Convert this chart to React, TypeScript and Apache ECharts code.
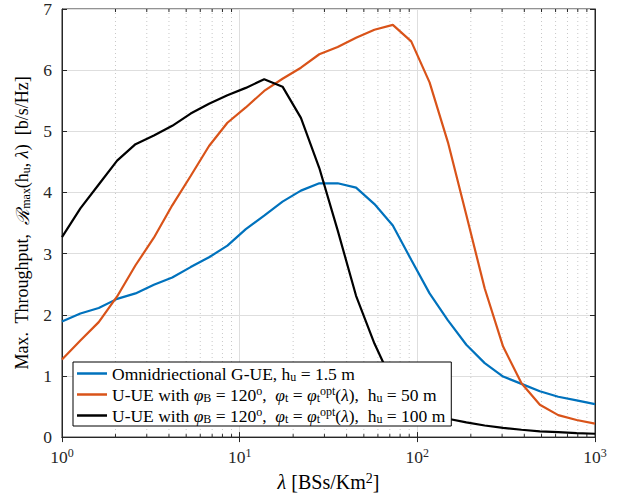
import React, { useEffect, useRef } from "react";
import * as echarts from "echarts";

const lambdas = [1, 1.269, 1.61, 2.043, 2.593, 3.29, 4.175, 5.298, 6.723, 8.532, 10.83, 13.74, 17.43, 22.12, 28.07, 35.62, 45.2, 57.36, 72.79, 92.37, 117.2, 148.7, 188.7, 239.5, 303.9, 385.7, 489.4, 621.0, 788.0, 1000];
const omniGUE = [1.89, 2.02, 2.11, 2.26, 2.35, 2.49, 2.61, 2.78, 2.94, 3.13, 3.4, 3.62, 3.85, 4.03, 4.15, 4.15, 4.08, 3.81, 3.46, 2.9, 2.35, 1.91, 1.51, 1.21, 0.99, 0.87, 0.75, 0.66, 0.6, 0.54];
const uue50 = [1.27, 1.58, 1.88, 2.3, 2.81, 3.26, 3.79, 4.27, 4.76, 5.14, 5.39, 5.66, 5.86, 6.04, 6.26, 6.38, 6.53, 6.66, 6.74, 6.47, 5.8, 4.82, 3.63, 2.43, 1.48, 0.88, 0.53, 0.36, 0.28, 0.22];
const uue100 = [3.27, 3.74, 4.13, 4.52, 4.79, 4.93, 5.09, 5.29, 5.45, 5.59, 5.71, 5.85, 5.73, 5.22, 4.4, 3.38, 2.31, 1.53, 0.88, 0.58, 0.42, 0.3, 0.24, 0.19, 0.15, 0.12, 0.095, 0.08, 0.065, 0.055];
const minorTicks = [2, 3, 4, 5, 6, 7, 8, 9, 20, 30, 40, 50, 60, 70, 80, 90, 200, 300, 400, 500, 600, 700, 800, 900];
const seriesNames = ["omni", "u50", "u100"];
const seriesColors = ["#0072BD", "#D95319", "#000000"];

const SERIF = "'Liberation Serif', 'DejaVu Serif', serif";
const AX = "#262626";

const legendTexts: Record<string, string> = {
  omni: "{t|Omnidriectional G-UE, h}{sub|u}{t| = 1.5 m}",
  u50: "{t|U-UE with }{i|φ}{sub|B}{t| = 120}{sup|o}{t|,  }{i|φ}{sub|t}{t| = }{i|φ}{sub|t}{sup|opt}{t|(}{i|λ}{t|),  h}{sub|u}{t| = 50 m}",
  u100: "{t|U-UE with }{i|φ}{sub|B}{t| = 120}{sup|o}{t|,  }{i|φ}{sub|t}{t| = }{i|φ}{sub|t}{sup|opt}{t|(}{i|λ}{t|),  h}{sub|u}{t| = 100 m}",
};

function richSet(fs: number, lh: number) {
  return {
    t: { fontFamily: SERIF, fontSize: fs, color: "#000", lineHeight: lh },
    i: { fontFamily: SERIF, fontSize: fs, fontStyle: "italic", color: "#000", lineHeight: lh },
    c: { fontFamily: "'DejaVu Serif', serif", fontSize: fs, fontStyle: "italic", color: "#000", lineHeight: lh },
    sub: { fontFamily: SERIF, fontSize: Math.round(fs * 0.68), color: "#000", verticalAlign: "bottom", lineHeight: Math.round(fs * 0.68) },
    sup: { fontFamily: SERIF, fontSize: Math.round(fs * 0.68), color: "#000", verticalAlign: "top", lineHeight: Math.round(fs * 0.68) },
  };
}

export default function App() {
  const ref = useRef<HTMLDivElement>(null);
  useEffect(() => {
    if (!ref.current) return;
    const chart = echarts.init(ref.current, undefined, { renderer: "svg" });
    const mk = (vals: number[]) => lambdas.map((l, i) => [l, vals[i]]);
    const allVals = [omniGUE, uue50, uue100];
    const grid = { left: 62, top: 9, right: 26, bottom: 58 };
    const option: any = {
      animation: false,
      backgroundColor: "#fff",
      grid: { ...grid, show: true, borderColor: AX, borderWidth: 1, backgroundColor: "transparent" },
      legend: {
        orient: "vertical",
        left: 73,
        top: 362,
        z: 20,
        zlevel: 0,
        data: seriesNames.map((n, i) => ({ name: n, icon: "rect", itemStyle: { color: seriesColors[i] } })),
        itemWidth: 30,
        itemHeight: 2.5,
        itemGap: 2,
        padding: [2, 6, 1, 4],
        backgroundColor: "#fff",
        borderColor: "#000",
        borderWidth: 1,
        borderRadius: 0,
        formatter: (name: string) => legendTexts[name],
        textStyle: { fontFamily: SERIF, fontSize: 17.5, lineHeight: 19, rich: richSet(17.5, 19) },
      },
      xAxis: [
        {
          type: "log",
          logBase: 10,
          min: 1,
          max: 1000,
          name: "{i|λ}{t| [BSs/Km}{sup|2}{t|]}",
          nameLocation: "middle",
          nameGap: 33,
          nameTextStyle: { rich: richSet(20, 22) },
          axisLine: { lineStyle: { color: AX } },
          axisTick: { inside: true, length: 5, lineStyle: { color: AX } },
          axisLabel: {
            margin: 10,
            formatter: (v: number) => `{b|10}{s|${Math.round(Math.log10(v))}}`,
            rich: {
              b: { fontFamily: SERIF, fontSize: 17.5, color: AX, lineHeight: 20 },
              s: { fontFamily: SERIF, fontSize: 12, color: AX, verticalAlign: "top", lineHeight: 12 },
            },
          },
          splitLine: { show: true, lineStyle: { color: "#dedede", width: 1 } },
        },
        {
          type: "log",
          logBase: 10,
          min: 1,
          max: 1000,
          position: "top",
          axisLine: { lineStyle: { color: AX } },
          axisTick: { inside: true, length: 5, lineStyle: { color: AX } },
          axisLabel: { show: false },
          splitLine: { show: false },
        },
      ],
      yAxis: [
        {
          type: "value",
          min: 0,
          max: 7,
          interval: 1,
          name: "{t|Max.  Throughput,  }{c|ℛ}{sub|max}{t|(h}{sub|u}{t|, }{i|λ}{t|)  [b/s/Hz]}",
          nameLocation: "middle",
          nameGap: 28,
          nameRotate: 90,
          nameTextStyle: { rich: richSet(18, 20) },
          axisLine: { show: true, lineStyle: { color: AX } },
          axisTick: { show: true, inside: true, length: 5, lineStyle: { color: AX } },
          axisLabel: { fontFamily: SERIF, fontSize: 17.5, color: AX, margin: 10 },
          splitLine: { show: true, lineStyle: { color: "#dedede", width: 1 } },
        },
        {
          type: "value",
          min: 0,
          max: 7,
          interval: 1,
          position: "right",
          axisLine: { show: true, lineStyle: { color: AX } },
          axisTick: { show: true, inside: true, length: 5, lineStyle: { color: AX } },
          axisLabel: { show: false },
          splitLine: { show: false },
        },
      ],
      series: [
        {
          type: "custom",
          name: "minor",
          silent: true,
          z: 1,
          clip: false,
          xAxisIndex: 0,
          yAxisIndex: 0,
          data: minorTicks.map((m) => [m, 0]),
          renderItem: (params: any, api: any) => {
            const x = api.coord([api.value(0), 0])[0];
            const cs = params.coordSys;
            const top = cs.y;
            const bot = cs.y + cs.height;
            return {
              type: "group",
              children: [
                { type: "line", shape: { x1: x, y1: top, x2: x, y2: bot }, style: { stroke: "#c8c8c8", lineWidth: 1, lineDash: [1, 3] } },
                { type: "line", shape: { x1: x, y1: bot, x2: x, y2: bot - 3 }, style: { stroke: AX, lineWidth: 1 } },
                { type: "line", shape: { x1: x, y1: top, x2: x, y2: top + 3 }, style: { stroke: AX, lineWidth: 1 } },
              ],
            };
          },
        },
        ...seriesNames.map((n, i) => ({
          type: "line",
          name: n,
          data: mk(allVals[i]),
          symbol: "none",
          z: 3,
          lineStyle: { color: seriesColors[i], width: 2.2 },
          itemStyle: { color: seriesColors[i] },
        })),
      ],
    };
    chart.setOption(option);
    return () => chart.dispose();
  }, []);
  return <div ref={ref} style={{ position: "fixed", left: 0, top: 0, width: 621, height: 497 }} />;
}
